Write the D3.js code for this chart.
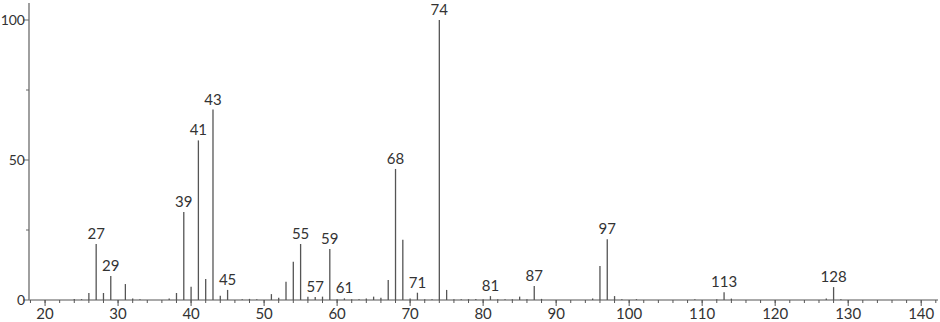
<!DOCTYPE html>
<html><head><meta charset="utf-8">
<script src="https://cdn.jsdelivr.net/npm/d3@7"></script>
<style>
html,body{margin:0;padding:0;background:#fff;}
svg{display:block;}
text{font-family:Lato,"DejaVu Sans",sans-serif;fill:#333;}
</style></head>
<body>
<div id="chart"></div>
<script>
// m/z values and relative intensities
const mz = [24,25,26,27,28,29,31,32,33,37,38,39,40,41,42,43,44,45,47,48,49,51,52,53,54,55,56,57,58,59,60,61,62,63,64,65,66,67,68,69,70,71,72,73,74,75,76,77,78,79,80,81,82,83,84,85,86,87,88,95,96,97,98,99,101,109,112,113,114,127,128,129];
const intensity = [0.4,0.3,2.5,20,2.5,8.6,5.7,0.5,0.3,0.5,2.5,31.4,4.7,57,7.5,68,1.5,3.6,0.3,0.4,0.3,2.1,0.8,6.5,13.7,20,1.2,1.1,1.2,18.2,0.3,0.6,0.3,0.3,0.5,1.2,0.8,7.1,46.8,21.5,0.5,2.6,0.3,0.3,100,3.6,0.3,0.3,0.3,0.4,0.3,1.4,0.3,0.3,0.3,1.2,0.3,5,0.4,0.5,12.1,21.7,1.4,0.3,0.3,0.3,0.3,2.8,0.5,0.5,4.6,0.3];
const labeledPeaks = [27,29,39,41,43,45,55,57,59,61,68,71,74,81,87,97,113,128];
const xTickValues = [20,30,40,50,60,70,80,90,100,110,120,130,140];
const yTickValues = [0,50,100];

const W = 940, H = 322;
const svg = d3.select("#chart").append("svg").attr("width", W).attr("height", H);

const x = d3.scaleLinear().domain([17.8, 142.3]).range([29, 938]);
const y = d3.scaleLinear().domain([0, 100]).range([300, 20]);

const data = mz.map((m, i) => ({mz: m, v: intensity[i]}));

// bars
svg.append("g").selectAll("line").data(data).join("line")
  .attr("x1", d => x(d.mz)).attr("x2", d => x(d.mz))
  .attr("y1", y(0)).attr("y2", d => y(d.v))
  .attr("stroke", "#555").attr("stroke-width", 1.3);

// x axis
const xAxis = svg.append("g").attr("transform", `translate(0,${y(0)})`);
xAxis.append("line").attr("x1", 29).attr("x2", 938).attr("stroke", "#555").attr("stroke-width", 1);
const minorX = d3.range(18, 143, 2);
xAxis.selectAll(".minor").data(minorX).join("line").attr("class","minor")
  .attr("x1", d => x(d)).attr("x2", d => x(d)).attr("y1", 0).attr("y2", 3)
  .attr("stroke", "#555").attr("stroke-width", 1);
xAxis.selectAll(".major").data(xTickValues).join("line").attr("class","major")
  .attr("x1", d => x(d)).attr("x2", d => x(d)).attr("y1", 0).attr("y2", 6)
  .attr("stroke", "#555").attr("stroke-width", 1);
xAxis.selectAll("text").data(xTickValues).join("text")
  .attr("x", d => x(d)).attr("y", 19).attr("text-anchor", "middle")
  .attr("font-size", 15).text(d => d);

// y axis
const yAxis = svg.append("g").attr("transform", `translate(29,0)`);
yAxis.append("line").attr("y1", 3).attr("y2", y(0)).attr("stroke", "#888").attr("stroke-width", 1.6);
yAxis.selectAll(".minor").data([25,75]).join("line").attr("class","minor")
  .attr("x1", -3).attr("x2", 0).attr("y1", d => y(d)).attr("y2", d => y(d))
  .attr("stroke", "#666");
yAxis.selectAll(".major").data(yTickValues).join("line").attr("class","major")
  .attr("x1", -6).attr("x2", 0).attr("y1", d => y(d)).attr("y2", d => y(d))
  .attr("stroke", "#666");
yAxis.selectAll("text").data(yTickValues).join("text")
  .attr("x", -4).attr("y", d => y(d) + 5).attr("text-anchor", "end")
  .attr("font-size", 14).text(d => d);

// peak labels
svg.append("g").selectAll("text").data(data.filter(d => labeledPeaks.includes(d.mz))).join("text")
  .attr("x", d => x(d.mz)).attr("y", d => y(d.v) - 5)
  .attr("text-anchor", "middle").attr("font-size", 15).text(d => d.mz);
</script>
</body></html>
